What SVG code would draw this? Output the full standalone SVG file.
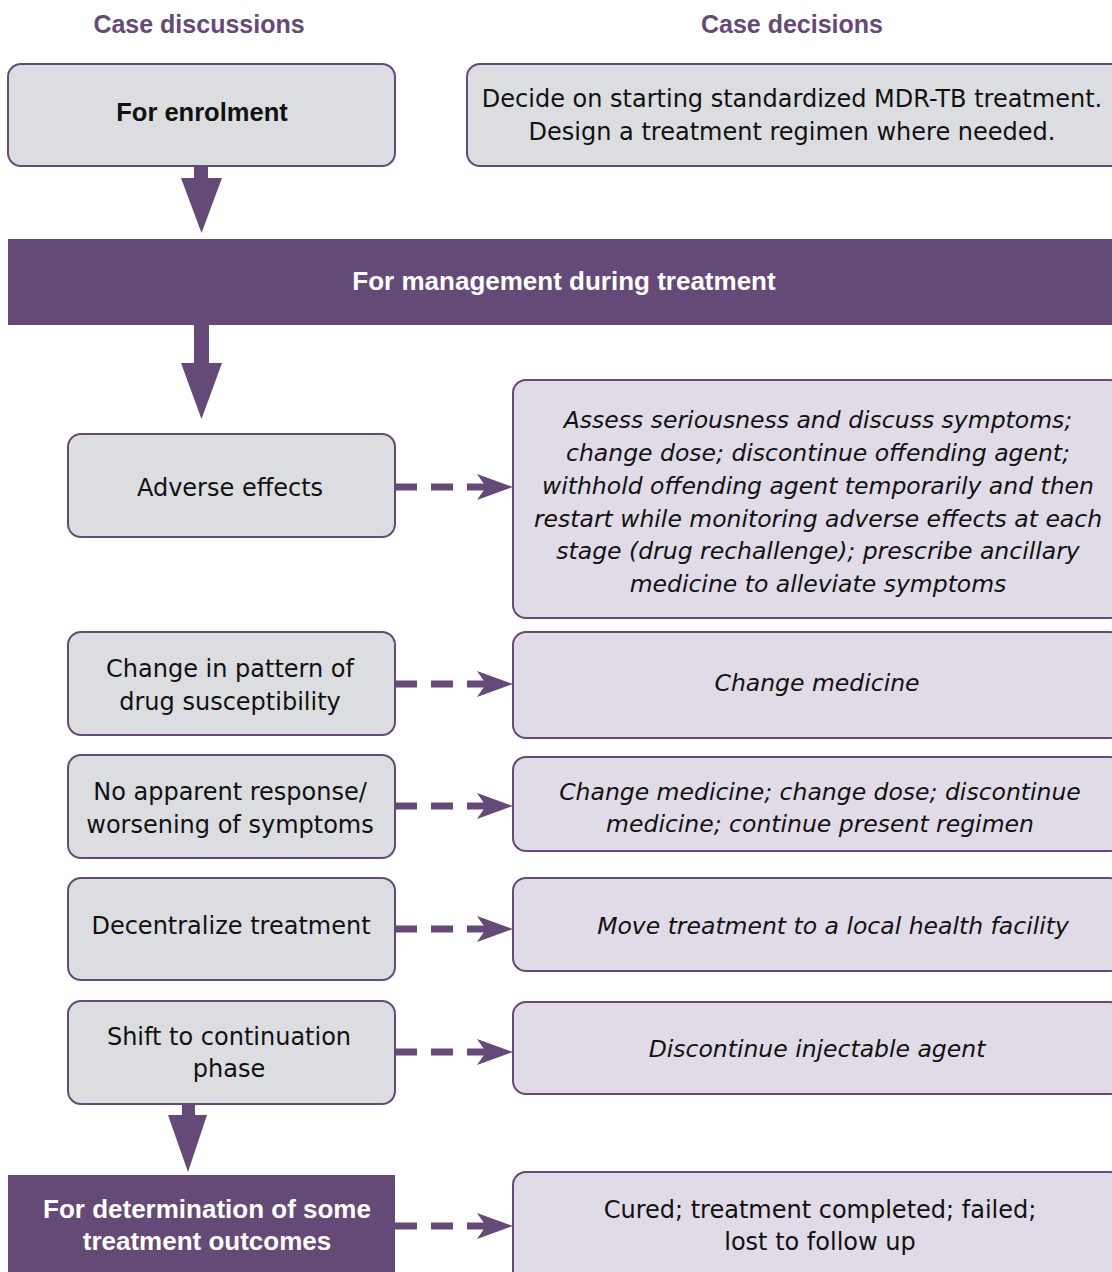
<svg xmlns="http://www.w3.org/2000/svg" width="1112" height="1272" viewBox="0 0 1112 1272">
  <defs>
    <style>
      .hdr { font-family: "Liberation Sans", Arial, sans-serif; font-weight: bold; font-size: 25px; fill: #654a77; text-anchor: middle; }
      .lbox { fill: #dcdde0; stroke: #654a77; stroke-width: 2; }
      .rbox { fill: #e0dbe6; stroke: #654a77; stroke-width: 2; }
      .band { fill: #654a77; }
      .t { font-family: "DejaVu Sans", "Liberation Sans", sans-serif; font-size: 24px; fill: #111; text-anchor: middle; }
      .ti { font-family: "DejaVu Sans", "Liberation Sans", sans-serif; font-size: 23.5px; font-style: italic; fill: #111; text-anchor: middle; }
      .tb { font-family: "Liberation Sans", Arial, sans-serif; font-size: 25.5px; font-weight: bold; fill: #111; text-anchor: middle; }
      .tw { font-family: "Liberation Sans", Arial, sans-serif; font-size: 26px; font-weight: bold; fill: #ffffff; text-anchor: middle; }
      .dash { stroke: #654a77; stroke-width: 7; stroke-dasharray: 22 14; fill: none; }
      .block { fill: #654a77; }
    </style>
    <marker id="head" viewBox="0 0 36 26" refX="9" refY="13" markerWidth="36" markerHeight="26" markerUnits="userSpaceOnUse" orient="auto">
      <path d="M0,0 L36,13 L0,26 L9,13 Z" fill="#654a77"/>
    </marker>
  </defs>

  <rect width="1112" height="1272" fill="#ffffff"/>

  <!-- column headings -->
  <text class="hdr" x="199" y="33">Case discussions</text>
  <text class="hdr" x="792" y="33">Case decisions</text>

  <!-- enrolment stage -->
  <g id="enrolment">
    <rect class="lbox" x="8" y="64" width="387" height="102" rx="13"/>
    <text class="tb" x="202" y="121">For enrolment</text>
  </g>
  <g id="enrolment-decision">
    <rect class="lbox" x="467" y="64" width="660" height="102" rx="13"/>
    <text class="t" x="792" y="107">Decide on starting standardized MDR-TB treatment.</text>
    <text class="t" x="792" y="140">Design a treatment regimen where needed.</text>
  </g>

  <!-- management band -->
  <g id="management">
    <rect class="band" x="8" y="239" width="1110" height="86"/>
    <text class="tw" x="564" y="290">For management during treatment</text>
  </g>

  <!-- discussion topics -->
  <g id="adverse">
    <rect class="lbox" x="68" y="434" width="327" height="103" rx="13"/>
    <text class="t" x="230" y="496">Adverse effects</text>
  </g>
  <g id="adverse-decision">
    <rect class="rbox" x="513" y="380" width="610" height="238" rx="13"/>
    <text class="ti" x="818" y="428">Assess seriousness and discuss symptoms;</text>
    <text class="ti" x="818" y="461">change dose; discontinue offending agent;</text>
    <text class="ti" x="818" y="494">withhold offending agent temporarily and then</text>
    <text class="ti" x="818" y="527">restart while monitoring adverse effects at each</text>
    <text class="ti" x="818" y="559">stage (drug rechallenge); prescribe ancillary</text>
    <text class="ti" x="818" y="592">medicine to alleviate symptoms</text>
  </g>

  <g id="susceptibility">
    <rect class="lbox" x="68" y="632" width="327" height="103" rx="13"/>
    <text class="t" x="230" y="677">Change in pattern of</text>
    <text class="t" x="230" y="710">drug susceptibility</text>
  </g>
  <g id="susceptibility-decision">
    <rect class="rbox" x="513" y="632" width="610" height="106" rx="13"/>
    <text class="ti" x="817" y="691">Change medicine</text>
  </g>

  <g id="no-response">
    <rect class="lbox" x="68" y="755" width="327" height="103" rx="13"/>
    <text class="t" x="230" y="800">No apparent response/</text>
    <text class="t" x="230" y="833">worsening of symptoms</text>
  </g>
  <g id="no-response-decision">
    <rect class="rbox" x="513" y="757" width="610" height="94" rx="13"/>
    <text class="ti" x="820" y="800">Change medicine; change dose; discontinue</text>
    <text class="ti" x="820" y="832">medicine; continue present regimen</text>
  </g>

  <g id="decentralize">
    <rect class="lbox" x="68" y="878" width="327" height="102" rx="13"/>
    <text class="t" x="231" y="934">Decentralize treatment</text>
  </g>
  <g id="decentralize-decision">
    <rect class="rbox" x="513" y="878" width="610" height="93" rx="13"/>
    <text class="ti" x="833" y="934">Move treatment to a local health facility</text>
  </g>

  <g id="continuation">
    <rect class="lbox" x="68" y="1001" width="327" height="103" rx="13"/>
    <text class="t" x="229" y="1045">Shift to continuation</text>
    <text class="t" x="229" y="1077">phase</text>
  </g>
  <g id="continuation-decision">
    <rect class="rbox" x="513" y="1002" width="610" height="92" rx="13"/>
    <text class="ti" x="817" y="1057">Discontinue injectable agent</text>
  </g>

  <g id="outcomes">
    <rect class="band" x="8" y="1175" width="387" height="100"/>
    <text class="tw" x="207" y="1218">For determination of some</text>
    <text class="tw" x="207" y="1250">treatment outcomes</text>
  </g>
  <g id="outcomes-decision">
    <rect class="rbox" x="513" y="1172" width="610" height="120" rx="13"/>
    <text class="t" x="820" y="1218">Cured; treatment completed; failed;</text>
    <text class="t" x="820" y="1250">lost to follow up</text>
  </g>

  <!-- connectors -->
  <g id="connectors">
    <polygon class="block" points="194,166 208,166 208,178 222,178 201.5,233 181,178 194,178"/>
    <polygon class="block" points="194,325 209,325 209,363 222,363 201.5,419 181,363 194,363"/>
    <polygon class="block" points="182,1104 195,1104 195,1115 207,1115 188,1172 168,1115 182,1115"/>
    <line class="dash" x1="395" y1="487" x2="486" y2="487" marker-end="url(#head)"/>
    <line class="dash" x1="395" y1="684" x2="486" y2="684" marker-end="url(#head)"/>
    <line class="dash" x1="395" y1="806" x2="486" y2="806" marker-end="url(#head)"/>
    <line class="dash" x1="395" y1="929" x2="486" y2="929" marker-end="url(#head)"/>
    <line class="dash" x1="395" y1="1052" x2="486" y2="1052" marker-end="url(#head)"/>
    <line class="dash" x1="395" y1="1226" x2="486" y2="1226" marker-end="url(#head)"/>
  </g>
</svg>
